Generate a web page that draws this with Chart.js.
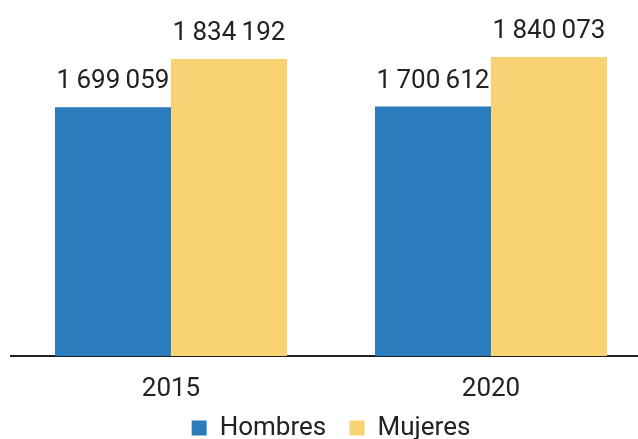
<!DOCTYPE html>
<html>
<head>
<meta charset="utf-8">
<script src="https://cdn.jsdelivr.net/npm/chart.js@4.4.1/dist/chart.umd.min.js"></script>
<style>
  html, body { margin: 0; padding: 0; background: #fff; overflow: hidden; }
  #wrap { width: 684px; height: 439px; }
</style>
</head>
<body>
<div id="wrap"><canvas id="popChart" width="684" height="439"></canvas></div>
<script>
const years = ["2015", "2020"];
const hombres = [1699059, 1700612];
const mujeres = [1834192, 1840073];
const seriesNames = ["Hombres", "Mujeres"];

const fmt = v => String(v).replace(/\B(?=(\d{3})+(?!\d))/g, "\u2009");

// draws the value above each bar
const valueLabels = {
  id: "valueLabels",
  afterDatasetsDraw(chart) {
    const { ctx } = chart;
    ctx.save();
    ctx.font = "26px Roboto";
    ctx.fillStyle = "#222";
    ctx.textAlign = "center";
    ctx.textBaseline = "alphabetic";
    chart.data.datasets.forEach((ds, i) => {
      chart.getDatasetMeta(i).data.forEach((bar, j) => {
        ctx.fillText(fmt(ds.data[j]), bar.x, bar.y - 19);
      });
    });
    ctx.restore();
  }
};

new Chart(document.getElementById("popChart"), {
  type: "bar",
  data: {
    labels: years,
    datasets: [
      { label: seriesNames[0], data: hombres, backgroundColor: "#2b7bbd" },
      { label: seriesNames[1], data: mujeres, backgroundColor: "#f9d274" }
    ]
  },
  options: {
    responsive: false,
    animation: false,
    layout: { padding: { left: 11, right: 33, top: 0, bottom: -12 } },
    datasets: { bar: { categoryPercentage: 0.725, barPercentage: 1 } },
    plugins: {
      legend: {
        position: "bottom",
        labels: {
          font: { family: "Roboto", size: 26 }, color: "#222",
          boxWidth: 15, boxHeight: 15, padding: 4,
          // trailing spaces widen the gap between the two entries
          generateLabels: chart => Chart.defaults.plugins.legend.labels.generateLabels(chart)
            .map((it, i, all) => ({ ...it, text: i < all.length - 1 ? it.text + "   " : it.text }))
        }
      },
      tooltip: { enabled: false }
    },
    scales: {
      x: {
        grid: { display: false, drawTicks: false },
        border: { display: true, color: "#222", width: 2 },
        ticks: { font: { family: "Roboto", size: 26 }, color: "#222", padding: 18 },
        afterFit: s => { s.height = 55; }
      },
      y: {
        display: false,
        min: 1000000,
        max: 2000000
      }
    }
  },
  plugins: [valueLabels]
});
</script>
</body>
</html>
